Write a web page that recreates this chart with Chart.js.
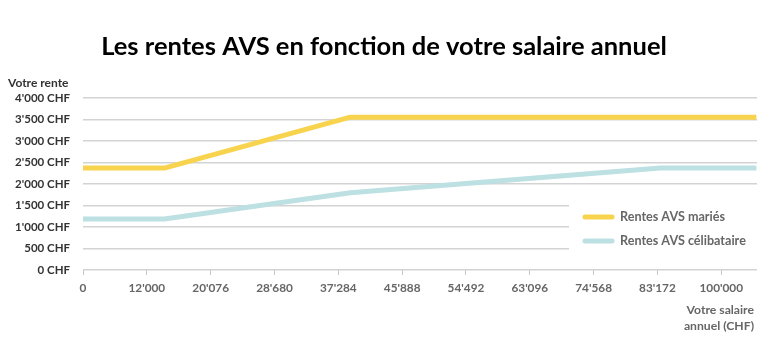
<!DOCTYPE html>
<html>
<head>
<meta charset="utf-8">
<script src="https://cdn.jsdelivr.net/npm/chart.js@4"></script>
<style>
  html, body { margin: 0; padding: 0; background: #ffffff; }
  #wrap { width: 768px; height: 357px; position: relative; }
</style>
</head>
<body>
<div id="wrap"><canvas id="c" width="768" height="357"></canvas></div>
<script>
// ---- Data ----
const chartTitle = "Les rentes AVS en fonction de votre salaire annuel";
const yAxisTitle = "Votre rente";
const xAxisTitle = ["Votre salaire", "annuel (CHF)"];
const xTickSalaries = [0, 12000, 20076, 28680, 37284, 45888, 54492, 63096, 74568, 83172, 100000];
const yTickValues = [0, 500, 1000, 1500, 2000, 2500, 3000, 3500, 4000];

const seriesNames = ["Rentes AVS mariés", "Rentes AVS célibataire"];
const marriedSalaries = [0, 14220, 38900, 109250];
const marriedRentes   = [2370, 2370, 3555, 3555];
const singleSalaries  = [0, 14220, 38900, 83900, 109250];
const singleRentes    = [1185, 1185, 1795, 2370, 2370];

const colors = ["#f8d44e", "#bde0e3"];

// ---- helpers ----
function fmt(n) {
  return String(n).replace(/\B(?=(\d{3})+(?!\d))/g, "'");
}
// map a salary onto the (evenly spaced) category tick axis
function salaryToAxis(s) {
  const t = xTickSalaries, n = t.length;
  for (let i = 0; i < n - 1; i++) {
    if (s <= t[i + 1]) return i + (s - t[i]) / (t[i + 1] - t[i]);
  }
  return (n - 1) + (s - t[n - 1]) / (t[n - 1] - t[n - 2]);
}
function toPoints(xs, ys) { return xs.map((s, i) => ({ x: salaryToAxis(s), y: ys[i] })); }

const FONT = "Lato, 'Open Sans', sans-serif";

const textPlugin = {
  id: 'texts',
  afterDraw(chart) {
    const ctx = chart.ctx;
    const ca = chart.chartArea;
    ctx.save();
    // title
    ctx.fillStyle = '#000';
    ctx.font = "bold 25.5px " + FONT;
    ctx.textAlign = 'center';
    ctx.textBaseline = 'middle';
    ctx.fillText(chartTitle, 384, 47);
    // y axis title
    ctx.fillStyle = '#333';
    ctx.font = "bold 12px " + FONT;
    ctx.textAlign = 'left';
    ctx.fillText(yAxisTitle, 8, 83);
    // x axis title
    ctx.fillStyle = '#666';
    ctx.font = "bold 12.2px " + FONT;
    ctx.textAlign = 'right';
    ctx.fillText(xAxisTitle[0], 754, 310);
    ctx.fillText(xAxisTitle[1], 754, 326);
    // legend box
    const lx = 569, ly = 196;
    ctx.fillStyle = '#fff';
    ctx.fillRect(lx, ly, ca.right - lx + 12, 67);
    chart.data.datasets.forEach((ds, i) => {
      const y = 217 + i * 24;
      ctx.strokeStyle = ds.borderColor;
      ctx.lineWidth = 5;
      ctx.lineCap = 'round';
      ctx.beginPath();
      ctx.moveTo(585, y);
      ctx.lineTo(612, y);
      ctx.stroke();
      ctx.fillStyle = '#666';
      ctx.font = "bold 12.6px " + FONT;
      ctx.textAlign = 'left';
      ctx.textBaseline = 'middle';
      ctx.fillText(ds.label, 620, y);
    });
    ctx.restore();
  }
};

new Chart(document.getElementById('c'), {
  type: 'line',
  data: {
    datasets: [
      { label: seriesNames[0], data: toPoints(marriedSalaries, marriedRentes),
        borderColor: colors[0], backgroundColor: colors[0], borderWidth: 5,
        pointRadius: 0, tension: 0, borderCapStyle: 'butt', borderJoinStyle: 'round' },
      { label: seriesNames[1], data: toPoints(singleSalaries, singleRentes),
        borderColor: colors[1], backgroundColor: colors[1], borderWidth: 5,
        pointRadius: 0, tension: 0, borderCapStyle: 'butt', borderJoinStyle: 'round' }
    ]
  },
  options: {
    responsive: false,
    animation: false,
    events: [],
    layout: { padding: { top: 98, right: 11, left: 0, bottom: 0 } },
    plugins: { legend: { display: false }, title: { display: false }, tooltip: { enabled: false } },
    scales: {
      x: {
        type: 'linear',
        min: 0,
        max: salaryToAxis(109250) + 0.01,
        afterBuildTicks(scale) { scale.ticks = xTickSalaries.map((_, i) => ({ value: i })); },
        afterFit(scale) { scale.height = 87; },
        ticks: {
          callback: (v) => fmt(xTickSalaries[v]),
          color: '#666',
          font: { family: FONT, size: 11.8, weight: 'bold' },
          padding: 6,
          maxRotation: 0,
          autoSkip: false
        },
        grid: { drawOnChartArea: false, drawTicks: true, tickLength: 5, color: '#c8c8c8', lineWidth: 1 },
        border: { display: false }
      },
      y: {
        min: 0,
        max: 4000,
        afterBuildTicks(scale) { scale.ticks = yTickValues.map(v => ({ value: v })); },
        afterFit(scale) { scale.width = 83; },
        ticks: {
          callback: (v) => fmt(v) + ' CHF',
          color: '#333',
          font: { family: FONT, size: 11.5, weight: 'bold' },
          padding: 13
        },
        grid: { color: '#d3d3d3', lineWidth: 1.5, drawTicks: false },
        border: { display: false }
      }
    }
  },
  plugins: [textPlugin]
});
</script>
</body>
</html>
